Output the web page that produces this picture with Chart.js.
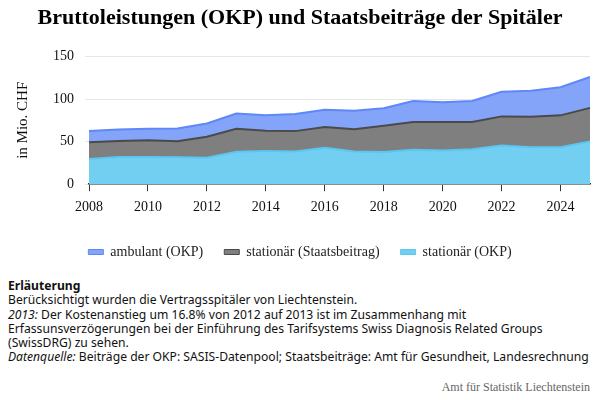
<!DOCTYPE html>
<html>
<head>
<meta charset="utf-8">
<script src="https://cdn.jsdelivr.net/npm/chart.js@4"></script>
<style>
    body { margin: 0; background: #fff; }
    #wrap { position: relative; width: 600px; height: 269px; }
    #notes {
        position: absolute; left: 8px; top: 279px; width: 592px;
        font-family: "Noto Sans", sans-serif; font-size: 12.15px; line-height: 14.3px; color: #111;
    }
    #notes b { font-weight: bold; }
    #source {
        position: absolute; right: 10px; top: 380px;
        font-family: "Liberation Serif", serif; font-size: 12px; color: #666;
    }
</style>
</head>
<body>
<div id="wrap"><canvas id="chart"></canvas></div>
<div id="notes">
    <b>Erläuterung</b><br>
    Berücksichtigt wurden die Vertragsspitäler von Liechtenstein.<br>
    <i>2013:</i> Der Kostenanstieg um 16.8% von 2012 auf 2013 ist im Zusammenhang mit Erfassunsverzögerungen bei der Einführung des Tarifsystems Swiss Diagnosis Related Groups (SwissDRG) zu sehen.<br>
    <i>Datenquelle:</i> Beiträge der OKP: SASIS-Datenpool; Staatsbeiträge: Amt für Gesundheit, Landesrechnung
</div>
<div id="source">Amt für Statistik Liechtenstein</div>
<script>
// values in Mio. CHF
var years = ['2008', '2009', '2010', '2011', '2012', '2013', '2014', '2015', '2016',
    '2017', '2018', '2019', '2020', '2021', '2022', '2023', '2024', '2025'];
var stationaerOkp = [29.6, 31.9, 32.0, 31.5, 31.0, 38.0, 39.0, 38.5, 42.7,
    38.5, 37.7, 40.4, 39.6, 41.0, 45.4, 43.5, 43.5, 50.0];
var stationaerStaat = [19.6, 18.9, 19.5, 18.9, 24.8, 27.0, 23.7, 23.8, 24.3,
    26.1, 30.8, 32.6, 33.4, 32.0, 34.2, 35.7, 37.3, 39.6];
var ambulantOkp = [13.1, 13.4, 13.5, 15.0, 15.4, 18.0, 18.1, 20.0, 20.3,
    21.6, 20.7, 24.7, 23.1, 24.7, 28.9, 30.4, 33.0, 36.2];
var yTicks = [0, 50, 100, 150];

var serif = '"Liberation Serif", "Times New Roman", serif';

function series(label, data, fill, line, fillMode) {
    return {
        label: label,
        data: data,
        backgroundColor: fill,
        borderColor: line,
        borderWidth: 2,
        pointRadius: 0,
        tension: 0,
        fill: fillMode
    };
}

new Chart(document.getElementById('chart').getContext('2d'), {
    type: 'line',
    data: {
        labels: years,
        datasets: [
            series('stationär (OKP)', stationaerOkp, '#73cff2', '#5cc6f2', 'origin'),
            series('stationär (Staatsbeitrag)', stationaerStaat, '#7f7f7f', '#4a4a4a', '-1'),
            series('ambulant (OKP)', ambulantOkp, '#84a4fa', '#5e88f7', '-1')
        ]
    },
    options: {
        responsive: true,
        maintainAspectRatio: false,
        animation: false,
        layout: { padding: { left: 10, right: 10, top: 0, bottom: 0 } },
        plugins: {
            title: {
                display: true,
                text: 'Bruttoleistungen (OKP) und Staatsbeiträge der Spitäler',
                color: '#000',
                font: { family: serif, size: 22, weight: 'bold' },
                padding: { top: 5, bottom: 25 }
            },
            legend: {
                position: 'bottom',
                reverse: true,
                labels: {
                    color: '#222',
                    font: { family: serif, size: 14 },
                    boxWidth: 15,
                    boxHeight: 5,
                    padding: 21,
                    generateLabels: function (chart) {
                        var items = Chart.defaults.plugins.legend.labels.generateLabels(chart);
                        items.forEach(function (it) { it.lineWidth = 1; });
                        return items;
                    }
                }
            },
            tooltip: { enabled: false }
        },
        scales: {
            x: {
                stacked: true,
                offset: false,
                afterBuildTicks: function (scale) {
                    scale.ticks = scale.ticks.filter(function (t) { return t.value % 2 === 0; });
                },
                grid: { drawOnChartArea: false, drawTicks: true, tickLength: 7, color: '#333' },
                border: { color: '#333', width: 1.5 },
                ticks: {
                    color: '#111',
                    font: { family: serif, size: 14 },
                    maxRotation: 0,
                    autoSkip: false,
                    padding: 8
                }
            },
            y: {
                stacked: true,
                min: yTicks[0],
                max: yTicks[yTicks.length - 1],
                afterBuildTicks: function (scale) {
                    scale.ticks = yTicks.map(function (v) { return { value: v }; });
                },
                grid: { color: '#e6e6e6', tickLength: 4 },
                border: { display: false },
                ticks: {
                    color: '#111',
                    font: { family: serif, size: 14 },
                    padding: 11
                },
                title: {
                    display: true,
                    text: 'in Mio. CHF',
                    color: '#111',
                    font: { family: serif, size: 15 },
                    padding: { bottom: 10 }
                }
            }
        }
    }
});
</script>
</body>
</html>
